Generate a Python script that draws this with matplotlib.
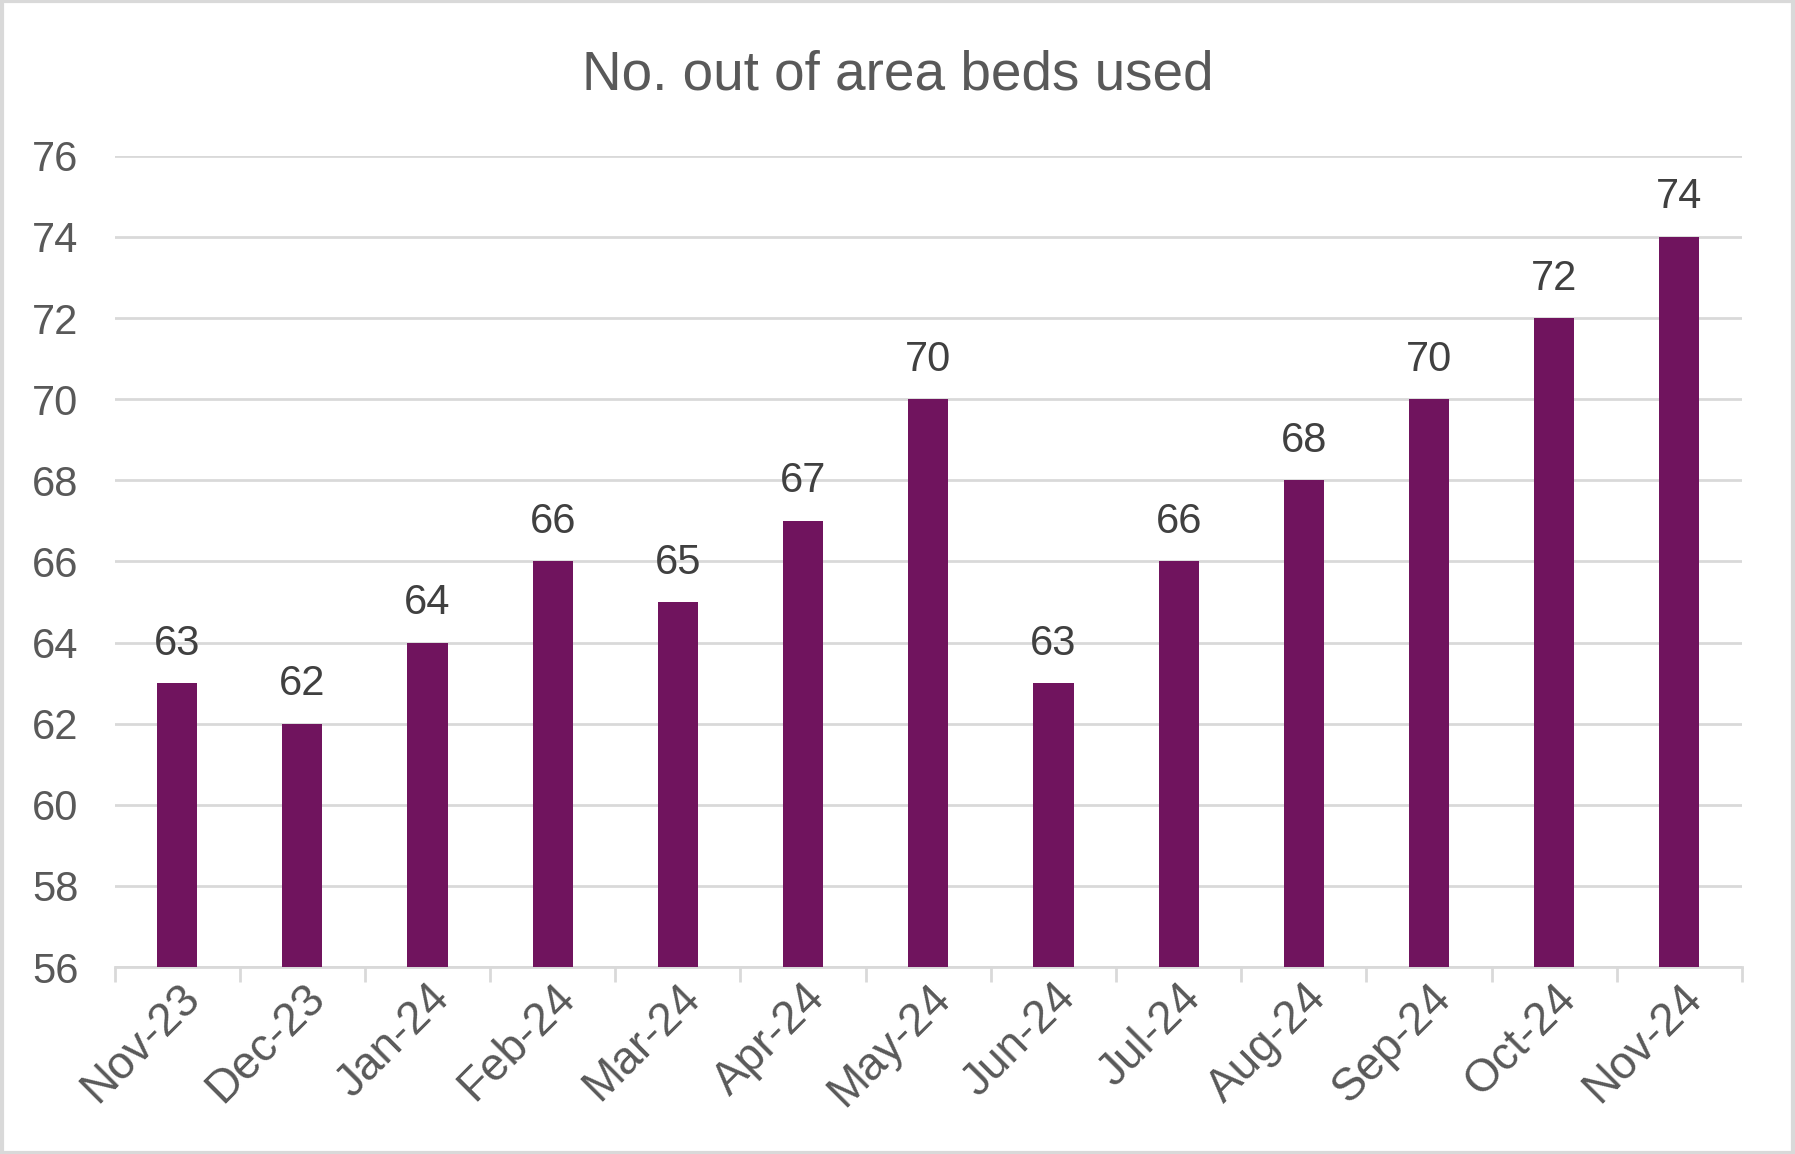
import matplotlib
matplotlib.use("Agg")
import matplotlib.pyplot as plt
import numpy as np

categories = ["Nov-23", "Dec-23", "Jan-24", "Feb-24", "Mar-24", "Apr-24", "May-24",
              "Jun-24", "Jul-24", "Aug-24", "Sep-24", "Oct-24", "Nov-24"]
values = [63, 62, 64, 66, 65, 67, 70, 63, 66, 68, 70, 72, 74]
yticks = [56, 58, 60, 62, 64, 66, 68, 70, 72, 74, 76]

plt.rcParams['font.family'] = ['Liberation Sans', 'DejaVu Sans']

fig = plt.figure(figsize=(17.95, 11.54), dpi=100)
ax = fig.add_axes([0.0638, 0.162, 0.9067, 0.703])

x = np.arange(len(categories))
bars = ax.bar(x, values, width=0.32, color="#70145E", zorder=3)
ax.set_ylim(56, 76)
ax.set_xlim(-0.5, len(categories) - 0.5)
ax.set_yticks(yticks)
ax.yaxis.grid(True, color="#D9D9D9", linewidth=2, zorder=0)
ax.tick_params(axis='y', length=0, labelsize=30, labelcolor="#595959", pad=26)

ax.set_xticks(x)
ax.set_xticklabels(categories, rotation=45, ha='right', va='top', rotation_mode='anchor',
                   fontsize=33, color="#595959")
ax.tick_params(axis='x', which='major', length=0, pad=6)
ax.set_xticks(np.arange(-0.5, len(categories), 1.0), minor=True)
ax.tick_params(axis='x', which='minor', length=11, width=2, color="#D9D9D9")

for s in ['top', 'right', 'left']:
    ax.spines[s].set_visible(False)
ax.spines['bottom'].set_color("#D9D9D9")
ax.spines['bottom'].set_linewidth(2)

for xi, v in zip(x, values):
    ax.annotate(str(v), (xi, v), xytext=(0, 14), textcoords='offset points',
                ha='center', va='bottom', fontsize=30, color="#404040")

fig.text(0.5, 0.935, "No. out of area beds used", ha='center', va='center',
         fontsize=39.5, color="#595959")

border = plt.Rectangle((0.001, 0.001), 0.998, 0.998, transform=fig.transFigure,
                       fill=False, edgecolor="#D9D9D9", linewidth=3)
fig.patches.append(border)

fig.savefig("out.png", dpi=100, facecolor="white")
